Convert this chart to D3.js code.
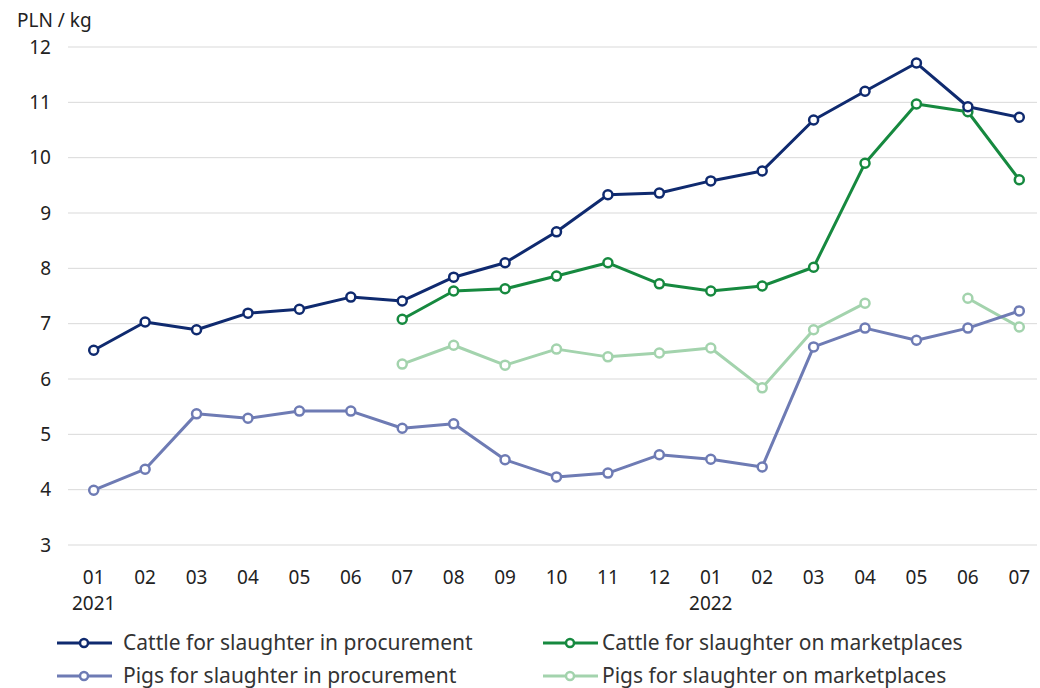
<!DOCTYPE html>
<html><head><meta charset="utf-8">
<script src="https://cdn.jsdelivr.net/npm/d3@7"></script>
<style>body{margin:0;background:#fff;} text{font-family:"Noto Sans",sans-serif;}</style>
</head><body><svg id="c" width="1040" height="688"></svg>
<script>
const months = ["01","02","03","04","05","06","07","08","09","10","11","12","01","02","03","04","05","06","07"];
const years = ["2021","","","","","","","","","","","","2022","","","","","",""];
const yTicks = [3,4,5,6,7,8,9,10,11,12];
const cattleProc = [6.52,7.03,6.89,7.19,7.26,7.48,7.41,7.84,8.10,8.66,9.33,9.36,9.58,9.76,10.68,11.20,11.71,10.92,10.73];
const cattleMkt  = [null,null,null,null,null,null,7.08,7.59,7.63,7.86,8.10,7.72,7.59,7.68,8.02,9.90,10.97,10.83,9.60];
const pigsProc   = [3.99,4.37,5.37,5.29,5.42,5.42,5.11,5.19,4.54,4.23,4.30,4.63,4.55,4.41,6.58,6.92,6.70,6.92,7.23];
const pigsMkt    = [null,null,null,null,null,null,6.27,6.61,6.25,6.54,6.40,6.47,6.56,5.84,6.89,7.37,null,7.46,6.94];
const seriesNames = ["Cattle for slaughter in procurement","Cattle for slaughter on marketplaces","Pigs for slaughter in procurement","Pigs for slaughter on marketplaces"];
const colors = ["#0f2a6f","#16893f","#6e7bb4","#a3d3ad"];

const svg = d3.select("#c");
const idx = d3.range(months.length);
const x = d3.scaleBand().domain(idx).range([68, 1045]);
const y = d3.scaleLinear().domain([3,12]).range([545,47]);
const cx = i => x(i) + x.bandwidth()/2;

svg.append("g").selectAll("line").data(yTicks).join("line")
  .attr("x1",68).attr("x2",1037).attr("y1",d=>y(d)).attr("y2",d=>y(d))
  .attr("stroke","#d9d9d9").attr("stroke-width",1);
svg.append("g").selectAll("text").data(yTicks).join("text")
  .attr("x",51).attr("y",d=>y(d)).attr("dy","0.35em").attr("text-anchor","end")
  .attr("font-size",19).attr("fill","#222").text(d=>d);
svg.append("text").attr("x",17).attr("y",27).attr("font-size",19).attr("fill","#222").text("PLN / kg");
svg.append("g").selectAll("text").data(idx).join("text")
  .attr("x",i=>cx(i)).attr("y",584).attr("text-anchor","middle")
  .attr("font-size",19).attr("fill","#222").text(i=>months[i]);
svg.append("g").selectAll("text").data(idx.filter(i=>years[i])).join("text")
  .attr("x",i=>cx(i)).attr("y",610).attr("text-anchor","middle")
  .attr("font-size",19).attr("fill","#222").text(i=>years[i]);

const all = [cattleProc, cattleMkt, pigsProc, pigsMkt];
const order = [3,1,2,0];
const line = d3.line().defined(d=>d!=null).x((d,i)=>cx(i)).y(d=>y(d));
order.forEach(k=>{
  const data = all[k];
  const g = svg.append("g");
  g.append("path").attr("d", line(data)).attr("fill","none")
    .attr("stroke",colors[k]).attr("stroke-width",3).attr("stroke-linejoin","round");
  g.selectAll("circle").data(idx.filter(i=>data[i]!=null)).join("circle")
    .attr("cx",i=>cx(i)).attr("cy",i=>y(data[i])).attr("r",4.5)
    .attr("fill","#fff").attr("stroke",colors[k]).attr("stroke-width",2.5);
});

const legPos = [[57,643,123],[543,643,602],[57,676,123],[543,676,602]];
legPos.forEach((p,k)=>{
  const g = svg.append("g").attr("transform",`translate(${p[0]},${p[1]})`);
  g.append("line").attr("x1",0).attr("x2",55).attr("stroke",colors[k]).attr("stroke-width",3);
  g.append("circle").attr("cx",27).attr("r",4).attr("fill","#fff").attr("stroke",colors[k]).attr("stroke-width",2.5);
  g.append("text").attr("x",p[2]-p[0]).attr("dy","0.35em").attr("font-size",21).attr("fill","#333").text(seriesNames[k]);
});
</script></body></html>
